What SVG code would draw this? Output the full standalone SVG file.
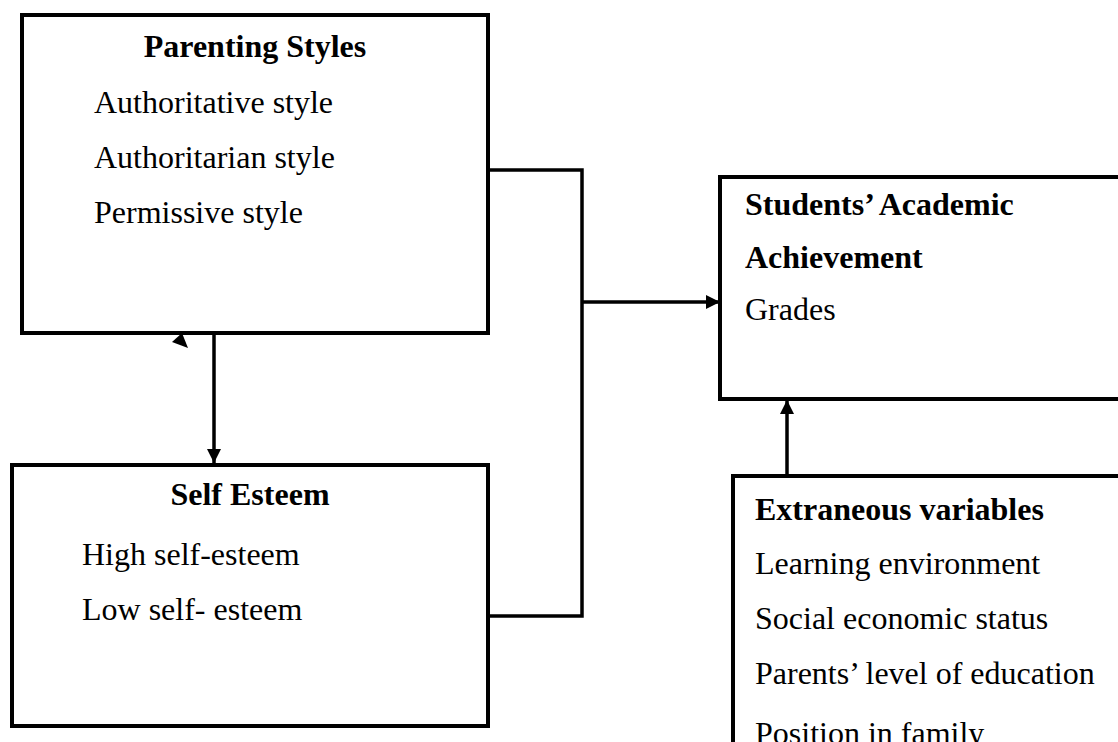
<svg xmlns="http://www.w3.org/2000/svg" width="1118" height="742" viewBox="0 0 1118 742">
<defs>
<style>
.box{fill:#fff;stroke:#000;stroke-width:4}
.t{font-family:"Liberation Serif","Times New Roman",serif;font-size:32px;fill:#000}
.b{font-weight:bold}
.c{fill:none;stroke:#000;stroke-width:3.5}
</style>
<marker id="ah" viewBox="0 0 10 10" refX="10" refY="5" markerWidth="14" markerHeight="14" markerUnits="userSpaceOnUse" orient="auto">
<path d="M0,0 L10,5 L0,10 Z" fill="#000"/>
</marker>
</defs>
<rect width="1118" height="742" fill="#fff"/>
<g id="parenting-styles">
<rect class="box" x="22" y="15" width="466" height="318"/>
<text class="t b" x="255" y="57" text-anchor="middle">Parenting Styles</text>
<text class="t" x="94" y="113">Authoritative style</text>
<text class="t" x="94" y="168">Authoritarian style</text>
<text class="t" x="94" y="223">Permissive style</text>
</g>
<g id="self-esteem">
<rect class="box" x="12" y="465" width="476" height="261"/>
<text class="t b" x="250" y="505" text-anchor="middle">Self Esteem</text>
<text class="t" x="82" y="565">High self-esteem</text>
<text class="t" x="82" y="620">Low self- esteem</text>
</g>
<g id="academic-achievement">
<rect class="box" x="720" y="177" width="420" height="222"/>
<text class="t b" x="745" y="215">Students’ Academic</text>
<text class="t b" x="745" y="268">Achievement</text>
<text class="t" x="745" y="320">Grades</text>
</g>
<g id="extraneous-variables">
<rect class="box" x="733" y="476" width="420" height="300"/>
<text class="t b" x="755" y="520">Extraneous variables</text>
<text class="t" x="755" y="574">Learning environment</text>
<text class="t" x="755" y="629">Social economic status</text>
<text class="t" x="755" y="684">Parents’ level of education</text>
<text class="t" x="755" y="744">Position in family</text>
</g>
<g id="connectors">
<polyline class="c" points="488,170 582,170 582,616 488,616"/>
<line class="c" x1="582" y1="302" x2="720" y2="302" marker-end="url(#ah)"/>
<line class="c" x1="787" y1="476" x2="787" y2="400" stroke-width="4" marker-end="url(#ah)"/>
<line class="c" x1="214" y1="335" x2="214" y2="463" stroke-width="2.5" marker-end="url(#ah)"/>
<polygon points="182,333 172,342 188,348" fill="#000"/>
</g>
</svg>
